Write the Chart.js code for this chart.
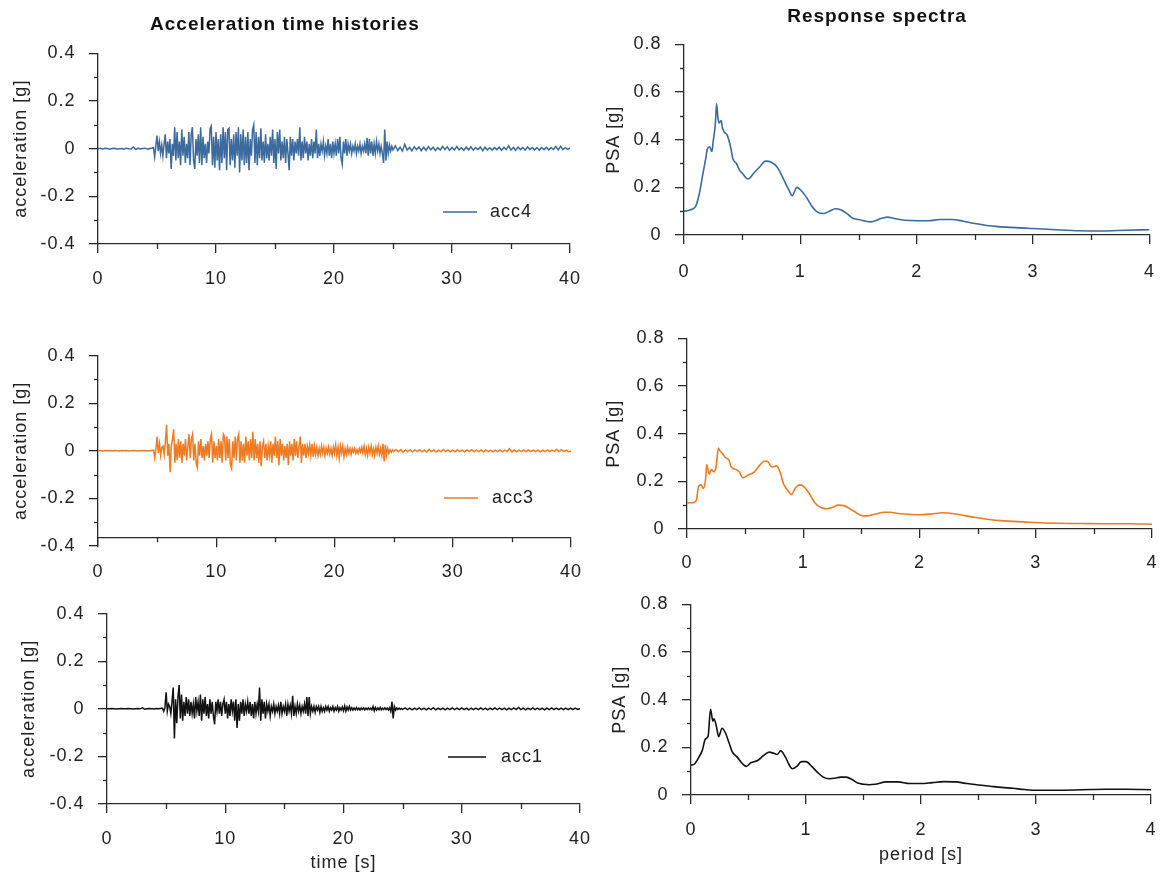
<!DOCTYPE html>
<html>
<head>
<meta charset="utf-8">
<script src="https://cdn.jsdelivr.net/npm/chart.js@4.4.1/dist/chart.umd.min.js"></script>
<style>
html,body{margin:0;padding:0;background:#fff;}
#wrap{position:relative;width:1172px;height:875px;overflow:hidden;background:#fff;}
canvas{position:absolute;}
</style>
</head>
<body>
<div id="wrap">
<canvas id="c1" width="644" height="290" style="left:0px;top:0px;width:644px;height:290px"></canvas>
<canvas id="c2" width="576" height="290" style="left:596px;top:0px;width:576px;height:290px"></canvas>
<canvas id="c3" width="644" height="290" style="left:0px;top:290px;width:644px;height:290px"></canvas>
<canvas id="c4" width="576" height="290" style="left:596px;top:290px;width:576px;height:290px"></canvas>
<canvas id="c5" width="644" height="295" style="left:0px;top:580px;width:644px;height:295px"></canvas>
<canvas id="c6" width="576" height="295" style="left:596px;top:580px;width:576px;height:295px"></canvas>
</div>
<script>
// ---------- DATA ----------
// time grid of the records: pre-event (0-4.6 s, 0.2 s), strong motion (4.7-25.0 s, 0.1 s), coda (25.2-40 s, 0.2 s)
const preStart = 0, preStep = 0.2;
const mainStart = 4.7, mainStep = 0.1;
const tailStart = 25.2, tailStep = 0.2;

const acc4Pre = [0,0.002,-0.001,0.002,0.001,-0.002,0.001,0.002,-0.001,0,0.001,-0.002,0.002,0,-0.001,0.007,-0.004,0.002,-0.001,0.001,0.002,-0.002,0.001,0.003];
const acc4Main = [
 0.005,-0.035,0.01,
 0.055,-0.01,0.03,-0.02,0.015,-0.03,0.02,0.06,-0.04,0.03,
 -0.02,0.04,-0.085,0.02,-0.03,0.09,-0.05,0.07,-0.04,0.03,
 -0.07,0.08,-0.03,0.05,-0.06,0.02,-0.04,0.07,-0.07,0.06,
 0.09,-0.05,-0.085,0.04,-0.03,0.06,-0.06,0.09,-0.07,0.05,
 -0.04,0.02,-0.06,0.03,-0.02,0.085,0.095,-0.07,0.05,-0.08,
 0.07,-0.05,0.04,-0.09,0.06,-0.06,0.09,-0.04,0.07,-0.09,
 0.08,0.085,-0.07,0.04,-0.05,0.06,-0.08,0.07,-0.03,0.09,
 -0.1,0.06,-0.05,0.08,-0.07,0.05,-0.06,0.07,-0.09,0.04,
 -0.03,0.08,0.1,-0.06,0.07,-0.07,0.05,-0.04,0.085,-0.05,
 0.03,-0.06,0.06,-0.04,0.02,-0.05,0.05,-0.03,0.08,-0.06,
 0.04,-0.085,0.07,-0.02,0.08,-0.05,0.03,-0.04,0.05,-0.06,
 0.04,-0.02,-0.09,0.05,-0.03,0.04,-0.05,0.03,-0.02,0.04,
 -0.03,0.09,-0.05,0.03,-0.04,0.05,-0.02,0.03,-0.05,0.02,
 -0.03,0.04,-0.04,0.03,-0.02,0.08,-0.04,0.02,-0.03,0.02,
 -0.01,0.03,-0.03,0.01,-0.02,0.04,-0.03,0.02,-0.04,0.03,
 -0.02,0.02,-0.03,0.04,-0.02,0.05,-0.04,-0.065,0.03,-0.02,
 0.04,-0.03,0.02,-0.01,0.02,-0.02,0.01,-0.01,0.02,-0.02,
 0.01,-0.01,0.02,-0.02,0.01,-0.01,0.02,-0.02,0.045,-0.03,
 0.04,-0.02,0.03,-0.03,0.02,-0.02,0.03,-0.01,0.02,-0.02,
 0.01,-0.02,-0.06,0.08,-0.05,0.03,-0.02,0.015,-0.01,0.01,
 -0.005];
const acc4Tail = [
 0.012,-0.008,0.006,-0.01,0.018, -0.006,0.005,-0.009,0.008,-0.004,
 0.007,-0.008,0.006,-0.007,0.009, -0.005,0.006,-0.008,0.004,-0.006,
 0.01,-0.004,0.008,-0.007,0.005, -0.006,0.009,-0.005,0.004,-0.007,
 0.006,-0.005,0.008,-0.006,0.005, -0.004,0.007,-0.008,0.006,-0.005,
 0.004,-0.006,0.005,-0.004,0.006, -0.007,0.005,-0.004,0.012,-0.006,
 0.005,-0.007,0.006,-0.004,0.005, -0.006,0.007,-0.004,0.005,-0.005,
 0.004,-0.006,0.005,-0.004,0.006, -0.005,0.004,-0.003,0.009,-0.005,
 0.01,-0.004,0.004,-0.003,0.002];

const acc3Pre = [0,0.001,-0.001,0.001,0,0.001,-0.001,0.001,0,-0.001,0.001,0,0.001,-0.001,0,0.001,0,-0.001,0.001,0,0.001,-0.001,0,0.001];
const acc3Main = [
 0.003,-0.03,0.01,
 0.06,-0.01,0.03,-0.02,0.015,0.02,-0.015,0.04,0.11,-0.02,
 0.03,-0.09,0.02,0.05,0.09,-0.05,0.03,-0.04,0.05,-0.03,
 0.04,-0.05,0.03,-0.02,0.05,-0.04,0.02,0.07,-0.03,0.05,
 0.07,-0.04,0.03,-0.05,-0.07,0.04,-0.02,0.05,-0.03,0.02,
 -0.04,0.03,-0.02,0.04,-0.03,0.05,0.07,-0.05,0.04,-0.03,
 0.02,-0.04,0.05,-0.03,0.04,-0.05,0.07,0.06,-0.04,0.06,
 -0.03,0.05,-0.06,-0.075,0.04,-0.03,0.06,-0.04,0.05,0.07,
 -0.05,0.04,-0.04,0.03,-0.05,0.06,-0.02,0.04,-0.04,0.05,
 -0.03,0.08,-0.04,0.05,-0.03,0.03,-0.05,0.04,-0.065,0.02,
 0.04,-0.03,0.03,-0.04,0.02,-0.02,0.04,-0.05,0.03,-0.02,
 0.06,-0.03,0.04,-0.06,0.05,-0.02,0.03,-0.04,0.02,-0.03,
 0.03,-0.06,0.04,-0.02,0.03,-0.04,0.05,-0.02,0.04,-0.03,
 0.02,0.06,-0.05,0.03,-0.02,0.03,-0.03,0.02,-0.01,0.025,
 -0.02,0.03,-0.025,0.02,-0.015,0.015,-0.02,0.01,-0.015,0.02,
 -0.01,0.015,-0.02,0.01,-0.01,0.015,-0.015,0.01,-0.02,0.015,
 -0.01,0.025,-0.02,0.015,-0.03,0.02,-0.01,0.02,-0.025,0.01,
 -0.015,0.015,-0.01,0.01,-0.015,0.01,-0.005,0.01,-0.01,0.005,
 -0.01,0.01,-0.005,0.015,-0.01,0.02,-0.015,0.01,-0.02,0.015,
 -0.01,0.02,-0.015,0.01,-0.02,0.015,-0.01,0.02,-0.015,0.01,
 -0.02,0.03,-0.045,0.025,-0.02,0.01,-0.01,0.005,-0.005,0.004,
 -0.003];
const acc3Tail = [
 0.006,-0.004,0.005,-0.006,0.004, -0.003,0.005,-0.005,0.004,-0.003,
 0.005,-0.004,0.003,-0.005,0.006, -0.003,0.004,-0.005,0.003,-0.004,
 0.006,-0.003,0.004,-0.004,0.003, -0.004,0.005,-0.003,0.003,-0.004,
 0.004,-0.003,0.005,-0.004,0.003, -0.003,0.004,-0.005,0.004,-0.003,
 0.003,-0.004,0.003,-0.003,0.004, -0.004,0.003,-0.003,0.009,-0.005,
 0.004,-0.004,0.003,-0.003,0.004, -0.004,0.004,-0.003,0.003,-0.003,
 0.003,-0.004,0.003,-0.003,0.004, -0.003,0.003,-0.002,0.006,-0.003,
 0.005,-0.003,0.003,-0.004,-0.002];

const acc1Pre = [0,0,0.001,0,-0.001,0,0.001,0,0,0.001,0,-0.001,0,0.001,0,0.004,-0.002,0,0.001,0,-0.001,0.001,0,0.002];
const acc1Main = [
 0.002,-0.01,0.005,
 0.07,-0.01,0.02,0.01,-0.02,0.03,0.09,-0.125,0.04,-0.06,
 0.05,0.1,-0.04,0.06,-0.05,0.03,-0.03,0.05,-0.02,0.04,
 -0.03,0.03,-0.02,0.02,-0.04,0.05,-0.01,0.03,-0.03,0.06,
 -0.05,0.04,-0.02,0.05,-0.03,0.02,-0.04,0.04,-0.02,0.03,
 -0.03,-0.065,0.03,-0.01,0.04,-0.02,0.03,-0.03,0.02,0.04,
 -0.02,0.03,-0.04,0.02,-0.03,0.04,-0.01,0.03,-0.05,0.04,
 -0.08,0.02,-0.05,0.03,-0.02,0.04,-0.03,0.02,-0.01,0.03,
 -0.02,0.03,-0.03,0.02,-0.04,0.03,-0.02,0.02,-0.01,0.09,
 -0.05,0.04,-0.02,0.03,-0.04,0.02,-0.01,0.02,-0.03,0.01,
 -0.01,0.02,-0.02,0.01,-0.01,0.015,-0.02,0.03,-0.02,0.01,
 -0.01,0.02,-0.03,0.02,-0.01,0.015,-0.02,0.055,-0.03,0.01,
 -0.02,0.02,-0.01,0.015,-0.02,0.01,-0.01,0.02,-0.02,0.05,
 -0.03,0.05,-0.02,0.01,-0.01,0.01,-0.015,0.01,-0.005,0.01,
 -0.015,0.01,-0.01,0.005,-0.01,0.01,-0.005,0.01,-0.01,0.005,
 -0.005,0.01,-0.01,0.005,-0.005,0.01,-0.01,0.005,-0.005,0.008,
 -0.008,0.012,-0.01,0.008,-0.005,0.01,-0.005,0.005,-0.005,0.004,
 -0.004,0.005,-0.004,0.003,-0.005,0.004,-0.003,0.004,-0.004,0.003,
 -0.003,0.004,-0.003,0.003,-0.004,0.01,-0.008,0.006,-0.005,0.004,
 -0.004,0.006,-0.004,0.003,-0.003,0.004,-0.003,0.003,-0.005,0.004,
 -0.01,0.03,-0.04,0.01,-0.005,0.004,-0.003,0.003,-0.002,0.002,
 -0.002];
const acc1Tail = [
 0.004,-0.003,0.003,-0.004,0.003, -0.003,0.004,-0.003,0.003,-0.004,
 0.003,-0.003,0.005,-0.004,0.003, -0.003,0.003,-0.004,0.003,-0.003,
 0.004,-0.003,0.003,-0.003,0.004, -0.003,0.003,-0.004,0.003,-0.003,
 0.003,-0.003,0.004,-0.003,0.003, -0.004,0.003,-0.003,0.004,-0.003,
 0.003,-0.003,0.003,-0.004,0.003, -0.003,0.004,-0.003,0.006,-0.003,
 0.003,-0.004,0.003,-0.003,0.004, -0.003,0.003,-0.003,0.003,-0.004,
 0.003,-0.003,0.004,-0.003,0.003, -0.003,0.003,-0.003,0.003,-0.003,
 0.003,-0.003,0.003,-0.002,0.001];

// response spectra (period [s], PSA [g])
const period4 = [0,0.05,0.1,0.13,0.16,0.19,0.2,0.22,0.24,0.25,0.27,0.28,0.29,0.3,0.32,0.33,0.35,0.37,0.4,0.42,0.45,0.48,0.5,0.55,0.6,0.65,0.7,0.75,0.8,0.85,0.9,0.93,0.97,1.0,1.05,1.1,1.15,1.2,1.25,1.3,1.35,1.4,1.45,1.5,1.6,1.7,1.75,1.8,1.9,2.0,2.1,2.2,2.3,2.4,2.5,2.6,2.7,2.8,2.9,3.0,3.2,3.4,3.6,3.8,4.0];
const psa4 = [0.10,0.105,0.12,0.17,0.25,0.33,0.36,0.37,0.35,0.39,0.47,0.55,0.50,0.47,0.48,0.45,0.43,0.42,0.37,0.32,0.30,0.27,0.26,0.235,0.26,0.285,0.31,0.305,0.285,0.24,0.19,0.165,0.20,0.19,0.16,0.12,0.095,0.09,0.1,0.11,0.105,0.09,0.07,0.065,0.055,0.07,0.075,0.07,0.062,0.06,0.06,0.065,0.065,0.058,0.048,0.04,0.035,0.032,0.03,0.027,0.022,0.018,0.017,0.02,0.022];
const period3 = [0,0.05,0.08,0.1,0.12,0.14,0.16,0.17,0.18,0.19,0.21,0.23,0.25,0.27,0.28,0.3,0.33,0.36,0.38,0.42,0.45,0.48,0.52,0.58,0.63,0.67,0.7,0.73,0.77,0.8,0.83,0.87,0.9,0.93,0.97,1.0,1.05,1.1,1.15,1.2,1.25,1.3,1.35,1.4,1.45,1.5,1.55,1.6,1.7,1.75,1.8,1.9,2.0,2.1,2.2,2.3,2.4,2.5,2.6,2.7,2.8,2.9,3.0,3.2,3.4,3.6,3.8,4.0];
const psa3 = [0.11,0.11,0.12,0.18,0.185,0.17,0.21,0.27,0.25,0.23,0.25,0.24,0.26,0.34,0.33,0.32,0.30,0.29,0.26,0.25,0.24,0.215,0.225,0.24,0.27,0.285,0.28,0.26,0.265,0.24,0.19,0.16,0.145,0.17,0.185,0.18,0.15,0.11,0.09,0.085,0.09,0.1,0.098,0.085,0.07,0.057,0.055,0.06,0.07,0.07,0.066,0.062,0.06,0.063,0.068,0.064,0.055,0.047,0.04,0.035,0.032,0.03,0.027,0.024,0.023,0.022,0.022,0.02];
const period1 = [0,0.03,0.07,0.1,0.12,0.14,0.15,0.17,0.19,0.2,0.22,0.24,0.27,0.3,0.33,0.36,0.4,0.45,0.48,0.52,0.58,0.63,0.68,0.72,0.75,0.78,0.82,0.85,0.88,0.92,0.96,1.0,1.05,1.1,1.15,1.2,1.25,1.3,1.35,1.4,1.45,1.5,1.55,1.6,1.7,1.8,1.9,2.0,2.1,2.2,2.3,2.4,2.5,2.6,2.7,2.8,2.9,3.0,3.2,3.4,3.6,3.8,4.0];
const psa1 = [0.125,0.13,0.16,0.19,0.23,0.24,0.25,0.36,0.31,0.32,0.29,0.245,0.28,0.26,0.22,0.18,0.16,0.13,0.12,0.135,0.145,0.165,0.18,0.175,0.17,0.185,0.16,0.13,0.11,0.12,0.14,0.14,0.12,0.095,0.075,0.068,0.07,0.075,0.075,0.065,0.05,0.045,0.043,0.045,0.055,0.055,0.048,0.048,0.052,0.056,0.055,0.048,0.042,0.037,0.032,0.028,0.023,0.02,0.02,0.022,0.024,0.024,0.022];

// axis ticks
const accTicksY = [-0.4,-0.2,0,0.2,0.4];
const accMinorY = [-0.3,-0.1,0.1,0.3];
const timeTicks = [0,10,20,30,40];
const timeMinor = [5,15,25,35];
const psaTicksY = [0,0.2,0.4,0.6,0.8];
const psaMinorY = [0.1,0.3,0.5,0.7];
const periodTicks = [0,1,2,3,4];
const periodMinor = [0.5,1.5,2.5,3.5];

// ---------- BUILD ----------
function record(pre, main, tail) {
  const pts = [];
  pre.forEach((v, i) => pts.push({x: +(preStart + i * preStep).toFixed(3), y: v}));
  main.forEach((v, i) => pts.push({x: +(mainStart + i * mainStep).toFixed(3), y: v}));
  tail.forEach((v, i) => pts.push({x: +(tailStart + i * tailStep).toFixed(3), y: v}));
  return pts;
}
function pairs(xs, ys) { return xs.map((x, i) => ({x: x, y: ys[i]})); }

const FONT = '"Liberation Sans", Arial, Helvetica, sans-serif';
const AXIS = '#2a2a2a';
const SPACING = '1px';
const FS = 18;

const spacingPlugin = {
  id: 'spacing',
  beforeUpdate(chart) { chart.ctx.letterSpacing = SPACING; },
  beforeDraw(chart) { chart.ctx.letterSpacing = SPACING; }
};
const minorPlugin = {
  id: 'minorTicks',
  afterDraw(chart, args, o) {
    const ctx = chart.ctx, xs = chart.scales.x, ys = chart.scales.y, ca = chart.chartArea;
    const axisY = (o.xAt !== undefined && o.xAt !== null) ? ys.getPixelForValue(o.xAt) : ca.bottom;
    ctx.save();
    ctx.strokeStyle = AXIS; ctx.lineWidth = 1.3;
    (o.x || []).forEach(v => {
      const p = Math.round(xs.getPixelForValue(v)) + 0.5;
      ctx.beginPath(); ctx.moveTo(p, axisY); ctx.lineTo(p, axisY + 5); ctx.stroke();
    });
    (o.y || []).forEach(v => {
      const p = Math.round(ys.getPixelForValue(v)) + 0.5;
      ctx.beginPath(); ctx.moveTo(ca.left, p); ctx.lineTo(ca.left - 4, p); ctx.stroke();
    });
    ctx.restore();
  }
};
const legendPlugin = {
  id: 'lineLegend',
  afterDraw(chart, args, o) {
    if (!o || o.x === undefined) return;
    const ds = chart.data.datasets[0], ctx = chart.ctx;
    ctx.save();
    ctx.strokeStyle = ds.borderColor; ctx.lineWidth = 1.6;
    ctx.beginPath(); ctx.moveTo(o.x, o.y); ctx.lineTo(o.x + o.len, o.y); ctx.stroke();
    ctx.letterSpacing = SPACING;
    ctx.fillStyle = '#222'; ctx.font = FS + 'px ' + FONT; ctx.textBaseline = 'middle'; ctx.textAlign = 'left';
    ctx.fillText(ds.label, o.x + o.len + o.gap, o.y);
    ctx.restore();
  }
};

function makeChart(id, c) {
  const tickFont = {family: FONT, size: FS};
  const titleFont = {family: FONT, size: FS};
  return new Chart(document.getElementById(id), {
    type: 'line',
    data: {datasets: [{
      label: c.label, data: c.data, borderColor: c.color, borderWidth: c.bw,
      pointRadius: 0, fill: false, tension: 0,
      cubicInterpolationMode: c.smooth ? 'monotone' : 'default'
    }]},
    options: {
      responsive: false, animation: false, events: [],
      layout: {padding: c.pad},
      plugins: {
        legend: {display: false},
        tooltip: {enabled: false},
        title: c.title ? {display: true, text: c.title, color: '#111',
          font: {family: FONT, size: 19, weight: 'bold', lineHeight: 1.2}, padding: c.titlePad} : {display: false},
        minorTicks: {x: c.minorX, y: c.minorY, xAt: c.xAt},
        lineLegend: c.legend || {}
      },
      scales: {
        x: {
          type: 'linear', position: c.xAt !== undefined ? {y: c.xAt} : 'bottom',
          min: c.xTicks[0], max: c.xTicks[c.xTicks.length - 1],
          afterBuildTicks: s => { s.ticks = c.xTicks.map(v => ({value: v})); },
          afterFit: s => { if (c.xH) s.height = c.xH; },
          ticks: {font: tickFont, color: '#222', padding: c.xPadTick || 15.5, maxRotation: 0, autoSkip: false},
          grid: {drawOnChartArea: false, drawTicks: true, tickLength: 9, color: AXIS, lineWidth: 1.3},
          border: {display: true, color: AXIS, width: 1.3},
          title: c.xTitle ? {display: true, text: c.xTitle, color: '#222', font: titleFont, padding: {top: 0, bottom: c.xTitlePad}} : {display: false}
        },
        y: {
          type: 'linear', position: 'left',
          min: c.yTicks[0], max: c.yTicks[c.yTicks.length - 1],
          afterBuildTicks: s => { s.ticks = c.yTicks.map(v => ({value: v})); },
          afterFit: s => { s.width = c.yW; },
          ticks: {font: tickFont, color: '#222', padding: 13.5, autoSkip: false},
          grid: {drawOnChartArea: false, drawTicks: true, tickLength: 9, color: AXIS, lineWidth: 1.3},
          border: {display: true, color: AXIS, width: 1.3},
          title: {display: true, text: c.yTitle, color: '#222', font: titleFont, padding: {top: c.yTitlePad, bottom: 0}}
        }
      }
    },
    plugins: [spacingPlugin, minorPlugin, legendPlugin]
  });
}

const BLUE = '#3a6a9e', ORANGE = '#f07a20', BLACK = '#111111';
// lineHeight of axis titles = 18*1.2 = 21.6 -> half 10.8
makeChart('c1', {
  label: 'acc4', data: record(acc4Pre, acc4Main, acc4Tail), color: BLUE, bw: 1.5,
  pad: {left: 0, top: 0, right: 74, bottom: 0}, yW: 98, xH: 46,
  title: 'Acceleration time histories', titlePad: {top: 13.6, bottom: 16.9},
  xTicks: timeTicks, yTicks: accTicksY, minorX: timeMinor, minorY: accMinorY,
  yTitle: 'acceleration [g]', yTitlePad: 10.7,
  legend: {x: 443, y: 212, len: 34, gap: 13}
});
makeChart('c2', {
  label: 'acc4', data: pairs(period4, psa4), color: BLUE, bw: 1.6, smooth: true,
  pad: {left: 0, top: 0, right: 14, bottom: 0}, yW: 88, xH: 55, xPadTick: 17,
  title: 'Response spectra', titlePad: {top: 5.6, bottom: 15.9},
  xTicks: periodTicks, yTicks: psaTicksY, minorX: periodMinor, minorY: psaMinorY,
  yTitle: 'PSA [g]', yTitlePad: 7.2
});
makeChart('c3', {
  label: 'acc3', data: record(acc3Pre, acc3Main, acc3Tail), color: ORANGE, bw: 1.5,
  pad: {left: 0, top: 65.7, right: 73, bottom: 34}, yW: 98, xAt: -0.363,
  xTicks: timeTicks, yTicks: accTicksY, minorX: timeMinor, minorY: accMinorY,
  yTitle: 'acceleration [g]', yTitlePad: 10.7,
  legend: {x: 444, y: 208, len: 34, gap: 14}
});
makeChart('c4', {
  label: 'acc3', data: pairs(period3, psa3), color: ORANGE, bw: 1.6, smooth: true,
  pad: {left: 0, top: 48.3, right: 10, bottom: 0}, yW: 91, xH: 51, xPadTick: 14.5,
  xTicks: periodTicks, yTicks: psaTicksY, minorX: periodMinor, minorY: psaMinorY,
  yTitle: 'PSA [g]', yTitlePad: 7.2
});
makeChart('c5', {
  label: 'acc1', data: record(acc1Pre, acc1Main, acc1Tail), color: BLACK, bw: 1.5,
  pad: {left: 0, top: 33.7, right: 64, bottom: 0}, yW: 107, xH: 71,
  xTicks: timeTicks, yTicks: accTicksY, minorX: timeMinor, minorY: accMinorY,
  yTitle: 'acceleration [g]', yTitlePad: 18.7,
  xTitle: 'time [s]', xTitlePad: 1.5,
  legend: {x: 448, y: 177, len: 38, gap: 15}
});
makeChart('c6', {
  label: 'acc1', data: pairs(period1, psa1), color: BLACK, bw: 1.6, smooth: true,
  pad: {left: 0, top: 24.3, right: 7, bottom: 0}, yW: 95, xH: 80,
  xTicks: periodTicks, yTicks: psaTicksY, minorX: periodMinor, minorY: psaMinorY,
  yTitle: 'PSA [g]', yTitlePad: 13.2,
  xTitle: 'period [s]', xTitlePad: 9.2
});
</script>
</body>
</html>
